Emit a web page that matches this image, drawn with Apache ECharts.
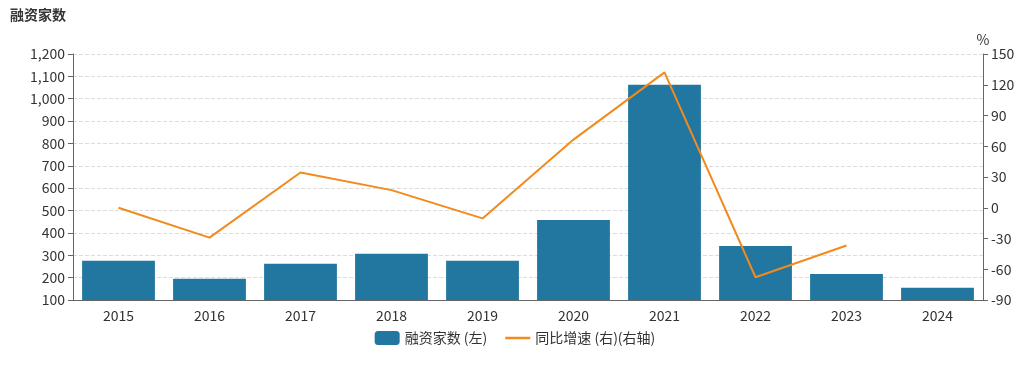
<!DOCTYPE html>
<html><head><meta charset="utf-8">
<script src="https://cdn.jsdelivr.net/npm/echarts@6/dist/echarts.min.js"></script>
<style>html,body{margin:0;padding:0;background:#fff}#c{width:1030px;height:370px}</style>
</head><body><div id="c"></div>
<script>
const categories = ['2015','2016','2017','2018','2019','2020','2021','2022','2023','2024'];
const countValues = [275, 195, 262, 307, 275, 458, 1063, 342, 216, 155];
const growthValues = [0, -29.1, 34.4, 17.2, -10.4, 66.5, 132.1, -67.8, -36.8, null];
const leftTicks = {min: 100, max: 1200, interval: 100};
const rightTicks = {min: -90, max: 150, interval: 30};

const font = '"Noto Sans CJK SC", "Noto Sans", sans-serif';
const chart = echarts.init(document.getElementById('c'), null, {renderer: 'canvas'});
chart.setOption({
  animation: false,
  textStyle: {fontFamily: font},
  title: {text: '融资家数', left: 5, top: 3, textStyle: {fontSize: 14, fontWeight: 'bold', color: '#333', fontFamily: font}},
  grid: {left: 73, right: 47, top: 54, bottom: 70, containLabel: false},
  legend: {
    bottom: 20, left: 'center', itemWidth: 25, itemHeight: 14, itemGap: 18,
    textStyle: {fontSize: 14, color: '#333', fontFamily: font},
    data: [{name: '融资家数 (左)', icon: 'roundRect'},
           {name: '同比增速 (右)(右轴)', icon: 'path://M0,0 L30,0 L30,3 L0,3 Z', itemStyle: {color: '#f28a1e'}}]
  },
  xAxis: {
    type: 'category', data: categories, boundaryGap: true,
    axisLine: {onZero: false, lineStyle: {color: '#666'}},
    axisTick: {alignWithLabel: true, lineStyle: {color: '#666'}},
    axisLabel: {fontSize: 14, color: '#333', margin: 9, fontFamily: font}
  },
  yAxis: [
    {type: 'value', min: leftTicks.min, max: leftTicks.max, interval: leftTicks.interval,
     axisLine: {show: true, lineStyle: {color: '#666'}},
     axisTick: {show: true, lineStyle: {color: '#666'}},
     axisLabel: {fontSize: 14, color: '#333', fontFamily: font, formatter: v => v.toLocaleString('en-US')},
     splitLine: {show: true, lineStyle: {color: '#dcdcdc', type: 'dashed'}}},
    {type: 'value', name: '%', nameGap: 6, nameTextStyle: {fontSize: 14, color: '#333', align: 'center'},
     min: rightTicks.min, max: rightTicks.max, interval: rightTicks.interval, position: 'right',
     axisLine: {show: true, lineStyle: {color: '#666'}},
     axisTick: {show: true, lineStyle: {color: '#666'}},
     axisLabel: {fontSize: 14, color: '#333', fontFamily: font},
     splitLine: {show: false}}
  ],
  series: [
    {name: '融资家数 (左)', type: 'bar', data: countValues, barWidth: '80%', yAxisIndex: 0,
     itemStyle: {color: '#21779f'}},
    {name: '同比增速 (右)(右轴)', type: 'line', data: growthValues, yAxisIndex: 1,
     showSymbol: false, symbol: 'none', lineStyle: {color: '#f28a1e', width: 2}, itemStyle: {color: '#f28a1e'}}
  ]
});
</script></body></html>
